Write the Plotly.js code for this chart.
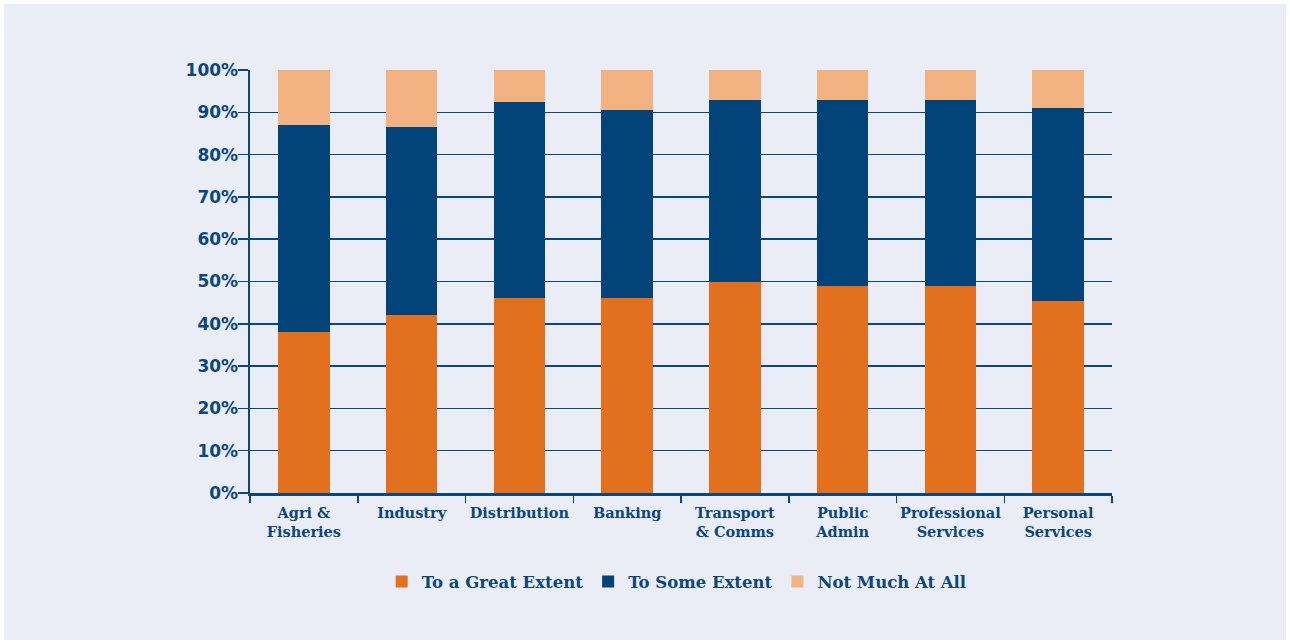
<!DOCTYPE html>
<html>
<head>
<meta charset="utf-8">
<script src="https://cdn.plot.ly/plotly-3.0.1.min.js"></script>
<style>
  html, body { margin: 0; padding: 0; background: #ffffff; }
  #chart { position: absolute; left: 4px; top: 4px; width: 1282px; height: 636px; }
</style>
</head>
<body>
<div id="chart"></div>
<script>
const categories = ["Agri &<br>Fisheries", "Industry", "Distribution", "Banking", "Transport<br>& Comms", "Public<br>Admin", "Professional<br>Services", "Personal<br>Services"];
const greatExtent = [38, 42, 46, 46, 50, 49, 49, 45.5];
const someExtent = [49, 44.5, 46.5, 44.5, 43, 44, 44, 45.5];
const notMuch = [13, 13.5, 7.5, 9.5, 7, 7, 7, 9];
const seriesNames = ["To a Great Extent", "To Some Extent", "Not Much At All"];
const yTickVals = [0, 10, 20, 30, 40, 50, 60, 70, 80, 90, 100];
const yTickText = ["0%", "10%", "20%", "30%", "40%", "50%", "60%", "70%", "80%", "90%", "100%"];

const navy = "#0b477c";
const slab = "'DejaVu Serif', serif";

const traces = [
  { type: "bar", name: seriesNames[0], x: categories, y: greatExtent, marker: { color: "#e3701e" } },
  { type: "bar", name: seriesNames[1], x: categories, y: someExtent, marker: { color: "#02447a" } },
  { type: "bar", name: seriesNames[2], x: categories, y: notMuch, marker: { color: "#f3b282" } }
];

const layout = {
  barmode: "stack",
  bargap: 0.52,
  paper_bgcolor: "#eaedf5",
  plot_bgcolor: "#eaedf5",
  margin: { l: 246, r: 174, t: 66, b: 147 },
  showlegend: true,
  legend: {
    orientation: "h",
    x: 0.495, xanchor: "center",
    y: -0.21, yanchor: "middle",
    font: { family: slab, size: 16.5, color: navy, weight: "bold" },
    bgcolor: "rgba(0,0,0,0)",
    traceorder: "normal",
    itemwidth: 30
  },
  xaxis: {
    type: "category",
    showline: true, linecolor: navy, linewidth: 2.5,
    ticks: "outside", tickson: "boundaries", ticklen: 7, tickwidth: 1.5, tickcolor: navy,
    showgrid: false,
    tickangle: 0,
    ticklabelstandoff: 5,
    tickfont: { family: slab, size: 14.5, color: navy, weight: "bold" },
    fixedrange: true
  },
  yaxis: {
    range: [0, 100],
    tickvals: yTickVals, ticktext: yTickText,
    showline: true, linecolor: navy, linewidth: 2.5,
    ticks: "outside", ticklen: 10, tickwidth: 1.5, tickcolor: navy,
    showgrid: true, gridcolor: navy, gridwidth: 1.5,
    zeroline: false,
    ticklabelstandoff: -4,
    tickfont: { family: "'DejaVu Sans', sans-serif", size: 17, color: navy, weight: "bold" },
    fixedrange: true
  },
  hovermode: false
};

Plotly.newPlot("chart", traces, layout, { displayModeBar: false, staticPlot: true });
</script>
</body>
</html>
